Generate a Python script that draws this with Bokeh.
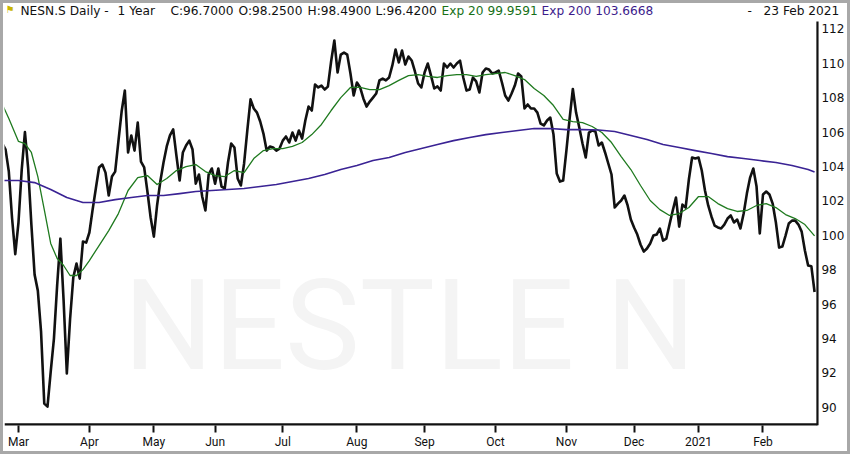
import pandas as pd
from bokeh.plotting import figure
from bokeh.models import FixedTicker, Label, Range1d
from bokeh.embed import file_html
from bokeh.resources import INLINE

# ---------------- data ----------------
closes = [
    105.33, 104.98, 103.70, 101.00, 98.90, 100.74, 103.80, 106.00, 103.88, 100.62,
    97.71, 96.78, 94.40, 90.21, 90.04, 92.07, 93.99, 97.10, 99.80, 96.20,
    91.96, 95.10, 97.54, 98.35, 97.48, 99.63, 99.57, 100.16, 101.49, 102.72,
    103.94, 104.11, 103.64, 102.31, 103.41, 103.70, 105.45, 107.19, 108.41, 104.81,
    105.80, 104.92, 106.55, 104.28, 103.94, 102.54, 101.03, 99.92, 101.73, 103.12,
    104.23, 105.16, 105.80, 106.15, 104.63, 103.18, 104.81, 105.22, 105.50, 104.98,
    103.00, 103.53, 102.25, 101.44, 103.53, 103.88, 103.00, 103.88, 102.83, 102.72,
    104.23, 105.33, 105.10, 103.30, 102.89, 104.17, 106.09, 107.90, 107.37, 107.13,
    106.61, 105.91, 104.92, 105.16, 105.10, 104.92, 105.04, 105.50, 105.74, 105.39,
    105.97, 105.50, 106.09, 105.62, 106.67, 107.48, 107.25, 108.76, 108.59, 108.70,
    108.47, 108.64, 110.10, 111.32, 109.46, 110.50, 110.62, 110.50, 109.40, 108.12,
    108.88, 108.59, 107.95, 107.48, 107.77, 108.00, 108.24, 109.00, 109.11, 109.00,
    109.17, 109.87, 110.80, 110.04, 110.74, 109.92, 110.39, 110.16, 109.52, 108.82,
    108.59, 109.46, 109.98, 109.28, 108.53, 108.65, 108.41, 109.98, 109.75, 109.98,
    109.75, 109.98, 110.15, 109.17, 108.41, 108.47, 109.17, 108.94, 108.30, 109.46,
    109.69, 109.63, 109.40, 109.46, 109.57, 108.88, 108.12, 107.83, 108.24, 108.70,
    109.40, 109.23, 107.37, 107.60, 107.37, 107.37, 107.13, 106.49, 106.38, 106.67,
    106.84, 105.85, 103.59, 103.12, 103.18, 104.92, 106.78, 108.50, 107.13, 106.26,
    105.33, 104.52, 105.97, 106.09, 106.03, 105.22, 105.39, 104.81, 104.17, 103.53,
    101.61, 101.84, 102.02, 102.31, 101.73, 100.91, 100.45, 100.04, 99.46, 99.05,
    99.23, 99.52, 99.98, 100.04, 100.39, 99.69, 99.80, 100.62, 101.44, 102.19,
    100.50, 101.78, 101.61, 103.24, 104.52, 104.46, 104.52, 103.76, 102.60, 101.73,
    101.09, 100.56, 100.45, 100.39, 100.62, 100.97, 101.15, 100.74, 100.91, 100.39,
    101.26, 102.42, 103.35, 103.88, 102.83, 100.10, 102.37, 102.54, 102.37, 101.84,
    100.74, 99.28, 99.34, 99.98, 100.68, 100.85, 100.85, 100.62, 100.21, 99.11,
    98.24, 98.20, 96.70,
]

ema20_day = [0, 2, 5, 7, 9, 11, 13, 15, 17, 19, 21, 23, 25, 27, 30, 33, 36, 39, 42, 45,
             48, 51, 54, 57, 60, 63, 66, 69, 72, 75, 78, 81, 84, 87, 90, 93, 96, 99, 102, 105,
             108, 111, 114, 117, 120, 123, 126, 129, 132, 135, 138, 141, 144, 147, 150, 153,
             156, 159, 162, 165, 168, 171, 174, 177, 180, 183, 186, 189, 192, 195, 198, 201,
             204, 207, 210, 213, 216, 219, 222, 225, 228, 231, 234, 237, 240, 243, 246, 249, 252]
ema20_val = [107.60, 106.78, 105.45, 105.33, 104.81, 103.41, 101.49, 99.52, 98.65, 98.24,
             97.66, 97.66, 98.00, 98.53, 99.40, 100.27, 101.26, 102.60, 103.35, 103.47,
             102.95, 103.30, 103.76, 103.99, 104.11, 103.70, 103.47, 103.41, 103.76, 103.64,
             104.46, 104.92, 105.04, 105.04, 105.16, 105.39, 105.85, 106.44, 107.25, 108.00,
             108.59, 108.59, 108.47, 108.47, 108.70, 109.00, 109.28, 109.34, 109.23, 109.17,
             109.28, 109.34, 109.34, 109.23, 109.34, 109.40, 109.46, 109.28, 109.05, 108.53,
             108.12, 107.54, 106.73, 106.61, 106.55, 106.32, 105.97, 105.39, 104.57, 103.82,
             102.89, 102.02, 101.49, 101.15, 101.26, 101.61, 102.25, 102.25, 101.84, 101.55,
             101.38, 101.44, 101.73, 101.84, 101.61, 101.20, 100.97, 100.62, 99.96]

ema200_day = [0, 5, 10, 15, 20, 25, 30, 35, 40, 45, 50, 55, 60, 65, 70, 75, 80, 85, 90, 95,
              100, 105, 110, 115, 120, 125, 130, 135, 140, 145, 150, 155, 160, 165, 170, 175,
              180, 185, 190, 195, 200, 205, 210, 215, 220, 225, 230, 235, 240, 245, 250, 252]
ema200_val = [103.18, 103.18, 103.06, 102.66, 102.19, 101.90, 101.90, 102.07, 102.19, 102.31,
              102.31, 102.42, 102.54, 102.60, 102.66, 102.72, 102.83, 102.95, 103.12, 103.30,
              103.53, 103.82, 104.05, 104.34, 104.52, 104.81, 105.04, 105.27, 105.50, 105.68,
              105.85, 105.97, 106.09, 106.20, 106.20, 106.14, 106.14, 106.12, 106.03, 105.80,
              105.56, 105.27, 105.10, 104.92, 104.75, 104.57, 104.46, 104.34, 104.23, 104.05,
              103.82, 103.67]

exchange_holidays = ["2020-04-10", "2020-04-13", "2020-05-01", "2020-05-21", "2020-06-01",
                     "2020-12-24", "2020-12-25", "2020-12-31", "2021-01-01"]
y_ticks = [90, 92, 94, 96, 98, 100, 102, 104, 106, 108, 110, 112]

header_parts = ["NESN.S Daily -", "1 Year", "C:96.7000", "O:98.2500", "H:98.4900",
                "L:96.4200", "Exp 20 99.9591", "Exp 200 103.6668", "-", "23 Feb 2021"]
watermark = "NESTLE N"

# ---------------- derived axis info ----------------
dates = [d for d in pd.bdate_range("2020-02-24", "2021-02-23")
         if d.strftime("%Y-%m-%d") not in exchange_holidays]
days = list(range(len(closes)))
month_ticks = [i for i in range(1, len(dates)) if dates[i].month != dates[i - 1].month]
month_labels = {i: (str(dates[i].year) if dates[i].month == 1 else dates[i].strftime("%b"))
                for i in month_ticks}

# ---------------- styling ----------------
BLACK = "#111111"
GREEN = "#1f7a1f"
PURPLE = "#3a2394"
GREEN_TXT = "#177017"
PURPLE_TXT = "#3d1c8c"

W, H = 850, 454
LEFT, RIGHT, TOP, BOTTOM = 4, 0, 0, 29
X_LO, X_HI = 0.66, 263.15          # visible trading-day window (frame spans full width)
Y_LO, Y_HI = 88.94, 113.645        # visible price window (header row on top)
AXIS_X, AXIS_TOP = 252.9, 112.42   # where the right-hand price scale sits

p = figure(width=W, height=H, output_backend="svg", toolbar_location=None, tools="",
           x_range=Range1d(X_LO, X_HI), y_range=Range1d(Y_LO, Y_HI),
           y_axis_location="right",
           min_border_left=LEFT, min_border_top=TOP, min_border_bottom=BOTTOM,
           min_border_right=RIGHT)
p.styles = {"box-shadow": "inset 0 0 0 3px #a8a8a8", "background-color": "white"}
p.background_fill_alpha = 0
p.border_fill_alpha = 0
p.outline_line_color = None
p.grid.visible = False

# x axis (its line is drawn as a segment so it stops at the price scale)
xa = p.xaxis[0]
xa.ticker = FixedTicker(ticks=month_ticks)
xa.major_label_overrides = month_labels
xa.axis_line_color = None
xa.major_tick_line_width = 2
xa.major_tick_line_color = BLACK
xa.major_tick_out = 7
xa.major_tick_in = 0
xa.minor_tick_out = 0
xa.minor_tick_in = 0
xa.major_label_text_align = "left"
xa.major_label_text_font = "Roboto"
xa.major_label_text_font_size = "12px"
xa.major_label_text_color = BLACK
xa.major_label_standoff = 2

# y axis at a fixed place inside the frame; its line stops under the header row
ya = p.yaxis[0]
ya.fixed_location = AXIS_X
ya.ticker = FixedTicker(ticks=y_ticks)
ya.axis_line_color = None
ya.major_tick_out = 0
ya.major_tick_in = 0
ya.minor_tick_out = 0
ya.minor_tick_in = 0
ya.major_label_text_font = "DejaVu Sans"
ya.major_label_text_font_size = "12px"
ya.major_label_text_color = BLACK
ya.major_label_standoff = 4

# watermark
p.add_layout(Label(x=119, y=100, x_units="screen", y_units="screen", text=watermark,
                   text_font="Roboto", text_font_size="126px", text_color="#f4f4f4",
                   level="underlay", text_baseline="alphabetic"))

# series
p.line(days, closes, line_color=BLACK, line_width=2.6, line_join="round")
p.line(ema20_day, ema20_val, line_color=GREEN, line_width=1.3, line_join="round")
p.line(ema200_day, ema200_val, line_color=PURPLE, line_width=1.6, line_join="round")

# scale lines: right-hand price line and bottom time line
p.segment(x0=[AXIS_X], y0=[Y_LO], x1=[AXIS_X], y1=[AXIS_TOP], line_color=BLACK, line_width=2.2)
p.segment(x0=[X_LO], y0=[Y_LO], x1=[AXIS_X], y1=[Y_LO], line_color=BLACK, line_width=4.4)

# header
head_x = [16, 113, 166, 234, 303, 371, 437, 537, 743, 759]
head_c = [BLACK, BLACK, BLACK, BLACK, BLACK, BLACK, GREEN_TXT, PURPLE_TXT, BLACK, BLACK]
for txt, hx, hc in zip(header_parts, head_x, head_c):
    p.add_layout(Label(x=hx, y=415, x_units="screen", y_units="screen", text=txt,
                       text_font="DejaVu Sans", text_font_size="12.2px", text_color=hc,
                       text_baseline="alphabetic"))
p.add_layout(Label(x=1, y=416, x_units="screen", y_units="screen", text="\u2691",
                   text_font="DejaVu Sans", text_font_size="10px", text_color="#c8b400",
                   text_baseline="alphabetic"))

open("out.html", "w").write(file_html(p, INLINE))
